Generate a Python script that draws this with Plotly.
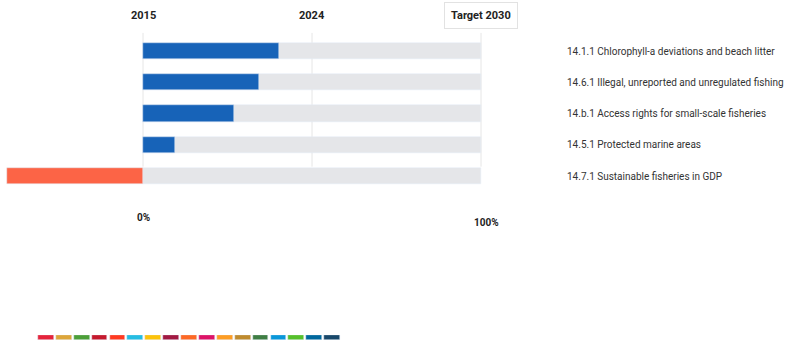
import plotly.graph_objects as go

# Indicator progress toward the 2030 target (percent of the way, 2015 = 0%)
indicators = [
    "14.1.1 Chlorophyll-a deviations and beach litter",
    "14.6.1 Illegal, unreported and unregulated fishing",
    "14.b.1 Access rights for small-scale fisheries",
    "14.5.1 Protected marine areas",
    "14.7.1 Sustainable fisheries in GDP",
]
progress = [40.2, 34.3, 26.9, 9.5, -40.2]
full_scale = [100, 100, 100, 100, 100]

milestones = ["2015", "2024", "Target 2030"]
milestone_pos = [0, 50, 100]
scale_labels = ["0%", "100%"]

sdg_goals = list(range(1, 18))
sdg_colors = [
    "#E5243B", "#DDA63A", "#4C9F38", "#C5192D", "#FF3A21", "#26BDE2",
    "#FCC30B", "#A21942", "#FD6925", "#DD1367", "#FD9D24", "#BF8B2E",
    "#3F7E44", "#0A97D9", "#56C02B", "#00689D", "#19486A",
]

W, H = 795, 345
px_per_pct = 3.38
x0_px = 143
row_px0, row_pitch = 51, 31.25

rows = list(range(len(indicators)))
bar_colors = ["#1763B8" if v >= 0 else "#FC6446" for v in progress]

fig = go.Figure()
fig.add_trace(go.Bar(
    x=full_scale, y=rows, orientation="h", marker_color="#E5E6E9",
    width=0.52, hoverinfo="skip", showlegend=False,
))
fig.add_trace(go.Bar(
    x=progress, y=rows, orientation="h", marker_color=bar_colors,
    width=0.52, showlegend=False, hovertext=indicators,
))

# SDG colour strip along the bottom
fig.add_trace(go.Bar(
    x=sdg_goals, y=[1] * len(sdg_goals), marker_color=sdg_colors,
    width=0.88, xaxis="x2", yaxis="y2", showlegend=False, hoverinfo="skip",
))

# vertical milestone guides
for p in milestone_pos:
    fig.add_shape(type="line", x0=p, x1=p, y0=-0.58, y1=3.7,
                  line=dict(color="#E6E6E6", width=1), layer="below")

font = "Roboto, Arial, sans-serif"
for lab, p in zip(milestones, milestone_pos):
    boxed = lab.startswith("Target")
    fig.add_annotation(
        x=p, y=-1.13, text=f"<b>{lab}</b>", showarrow=False,
        font=dict(family=font, size=11, color="#222"),
        bordercolor="#E2E2E2" if boxed else "rgba(0,0,0,0)",
        borderwidth=1, borderpad=6 if boxed else 0,
        bgcolor="white" if boxed else "rgba(0,0,0,0)",
    )

fig.add_annotation(x=0, y=5.32, text=f"<b>{scale_labels[0]}</b>", showarrow=False,
                   font=dict(family=font, size=10, color="#222"))
fig.add_annotation(x=101.5, y=5.5, text=f"<b>{scale_labels[1]}</b>", showarrow=False,
                   font=dict(family=font, size=10, color="#222"))

for r, name in zip(rows, indicators):
    fig.add_annotation(
        x=(565 - x0_px) / px_per_pct, y=r, text=name, xanchor="left",
        showarrow=False, font=dict(family=font, size=10, color="#333"),
    )

fig.update_layout(
    width=W, height=H, margin=dict(l=0, r=0, t=0, b=0),
    plot_bgcolor="white", paper_bgcolor="white", barmode="overlay",
    bargap=0,
    xaxis=dict(range=[-x0_px / px_per_pct, (W - x0_px) / px_per_pct],
               visible=False, fixedrange=True, domain=[0, 1]),
    yaxis=dict(range=[(H - row_px0) / row_pitch, -row_px0 / row_pitch],
               visible=False, fixedrange=True, domain=[0, 1]),
    xaxis2=dict(range=[0.5, 17.5], visible=False, anchor="y2",
                domain=[37 / W, 341 / W]),
    yaxis2=dict(range=[0, 1], visible=False, anchor="x2",
                domain=[5 / H, 10 / H]),
)

fig.write_html("out.html")
